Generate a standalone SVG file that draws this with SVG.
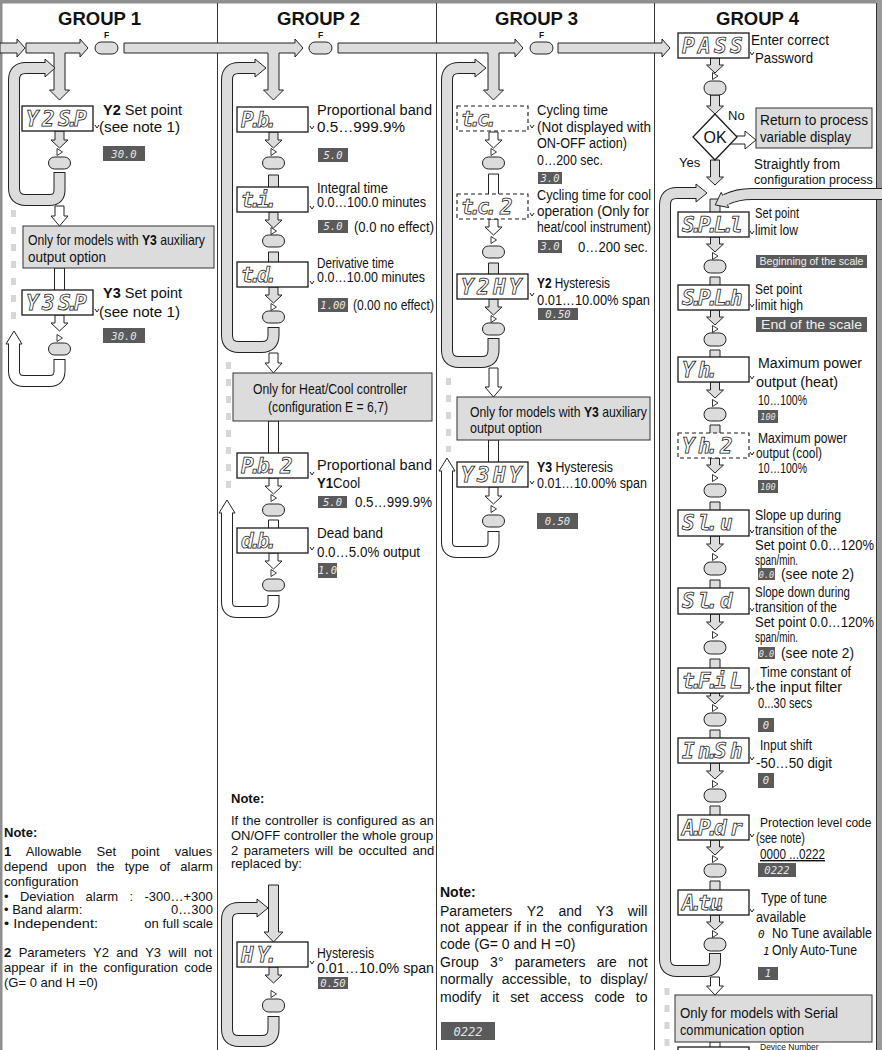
<svg xmlns="http://www.w3.org/2000/svg" width="882" height="1050" viewBox="0 0 882 1050">
<defs>
<style>
.div{stroke:#333;stroke-width:1}
.g{fill:#dcdcdc;stroke:#222;stroke-width:1}
.w{fill:#fff;stroke:#222;stroke-width:1}
.to{fill:none;stroke:#222;stroke-width:12}
.tig{fill:none;stroke:#dcdcdc;stroke-width:10}
.tiw{fill:none;stroke:#fff;stroke-width:10}
.d{fill:#fff;stroke:#1a1a1a;stroke-width:1.3}
.dd{fill:#fff;stroke:#1a1a1a;stroke-width:1.1;stroke-dasharray:4 3}
.btn{fill:#dcdcdc;stroke:#222;stroke-width:1}
.tri{fill:#fff;stroke:#222;stroke-width:0.9}
.box{fill:#dcdcdc;stroke:#333;stroke-width:1}
.val{fill:#5a5a5a}
.dash{stroke:#d6d6d6;stroke-width:5;stroke-dasharray:7 10}
.tick{fill:none;stroke:#222;stroke-width:1}
text{font-family:"Liberation Sans",Arial,Helvetica,sans-serif;fill:#111}
.t{font-size:14px}
.s{font-size:13px}
.h{font-size:18.5px;font-weight:bold}
.b{font-weight:bold}
.seg{font-family:"DejaVu Sans Mono",monospace;font-size:21px;font-style:italic;font-weight:bold;fill:#fff;stroke:#111;stroke-width:0.75}
.segs{font-family:"DejaVu Sans Mono",monospace;font-size:11px;font-style:italic}
.vt{font-family:"DejaVu Sans Mono",monospace;font-size:10.5px;font-style:italic;fill:#e6e6e6}
.vs{fill:#eeeeee}
.f{font-size:8.5px;font-weight:bold}
</style>
</defs>
<rect width="882" height="1050" fill="#fff"/>
<g id="frame">
<rect x="0" y="0" width="882" height="3.5" fill="#8f8f8f"/>
<rect x="0" y="0" width="2.5" height="1050" fill="#8f8f8f"/>
<rect x="876" y="0" width="6" height="1050" fill="#9a9a9a"/>
<line x1="876.5" y1="3" x2="876.5" y2="1050" stroke="#333"/>
<line class="div" x1="217.5" y1="3" x2="217.5" y2="1050"/>
<line class="div" x1="436.5" y1="3" x2="436.5" y2="1050"/>
<line class="div" x1="654.5" y1="3" x2="654.5" y2="1050"/>
</g>
<g id="headers">
<text class="h" x="99.5" y="25" text-anchor="middle">GROUP 1</text>
<text class="h" x="318.5" y="25" text-anchor="middle">GROUP 2</text>
<text class="h" x="536.5" y="25" text-anchor="middle">GROUP 3</text>
<text class="h" x="757.5" y="25" text-anchor="middle">GROUP 4</text>
</g>
<g id="optional-markers">
<line class="dash" x1="13.5" y1="210" x2="13.5" y2="325"/>
<line class="dash" x1="228.5" y1="362" x2="228.5" y2="495"/>
<line class="dash" x1="448.5" y1="378" x2="448.5" y2="452"/>
<line class="dash" x1="667" y1="988" x2="667" y2="1050"/>
</g>
<g id="connectors">
<path class="g" d="M0,43 H17 V39 L25,48 L17,57 V53 H0 Z"/>
<path class="g" d="M26,43 H80 V39 L88,48 L80,57 V53 H65 V90 H69.5 L59.5,100 L49.5,90 H54 V53 H26 Z"/>
<path class="g" d="M124,43 H295 V39 L303,48 L295,57 V53 H279 V90 H283.5 L273.5,100 L263.5,90 H268 V53 H124 Z"/>
<path class="g" d="M338,43 H515 V39 L523,48 L515,57 V53 H499 V90 H503.5 L493.5,100 L483.5,90 H488 V53 H338 Z"/>
<path class="g" d="M558,43 H662 V39 L670,48 L662,57 V53 H558 Z"/>
<path class="g" d="M55,131 V140 H51 L59.5,148 L68,140 H64 V131 Z"/>
<path class="to" d="M59.5,172 V190 Q59.5,200 49.5,200 H26 Q14,200 14,188 V80 Q14,68 26,68 H46"/>
<path class="g" d="M45,59 L55,68 L45,77 Z"/>
<path class="tig" d="M59.5,173 V190 Q59.5,200 49.5,200 H26 Q14,200 14,188 V80 Q14,68 26,68 H47"/>
<path class="w" d="M55,206 V216 H51 L59.5,226 L68,216 H64 V206 Z"/>
<path class="w" d="M54.5,290 V268 H64.5 V290"/>
<path class="w" d="M55,315 V323 H51 L59.5,331 L68,323 H64 V315 Z"/>
<path class="to" d="M59.5,359 V371 Q59.5,381 49.5,381 H24 Q14,381 14,371 V344"/>
<path class="w" d="M6,344 L14,331 L22,344 Z"/>
<path class="tiw" d="M59.5,360 V371 Q59.5,381 49.5,381 H24 Q14,381 14,371 V343"/>
<path class="g" d="M269,132 V140 H265 L273.5,148 L282,140 H278 V132 Z"/>
<path class="g" d="M268.5,187 V175 H278.5 V187"/>
<path class="g" d="M269,212 V220 H265 L273.5,228 L282,220 H278 V212 Z"/>
<path class="g" d="M268.5,262 V252 H278.5 V262"/>
<path class="g" d="M269,287 V295 H265 L273.5,303 L282,295 H278 V287 Z"/>
<path class="to" d="M273.5,327 V335 Q273.5,347 261.5,347 H239 Q227,347 227,335 V80 Q227,68 239,68 H256"/>
<path class="g" d="M255,59 L266,68 L255,77 Z"/>
<path class="tig" d="M273.5,328 V335 Q273.5,347 261.5,347 H239 Q227,347 227,335 V80 Q227,68 239,68 H257"/>
<path class="w" d="M269,353 V363 H265 L273.5,373 L282,363 H278 V353 Z"/>
<path class="w" d="M268.5,453 V421 H278.5 V453"/>
<path class="w" d="M269,478 V486 H265 L273.5,494 L282,486 H278 V478 Z"/>
<path class="w" d="M268.5,528 V520 H278.5 V528"/>
<path class="w" d="M269,553 V561 H265 L273.5,569 L282,561 H278 V553 Z"/>
<path class="to" d="M273.5,595 V602 Q273.5,612 263.5,612 H237 Q227,612 227,602 V513"/>
<path class="w" d="M219,513 L227,500 L235,513 Z"/>
<path class="tiw" d="M273.5,596 V602 Q273.5,612 263.5,612 H237 Q227,612 227,602 V512"/>
<path class="g" d="M268.5,885 V932 H264 L273.5,942 L283,932 H278.5 V885 Z"/>
<path class="g" d="M269,967 V975 H265 L273.5,983 L282,975 H278 V967 Z"/>
<path class="to" d="M273.5,1016 V1029 Q273.5,1041 261.5,1041 H239 Q227,1041 227,1029 V920 Q227,908 239,908 H258"/>
<path class="g" d="M257,899 L268,908 L257,917 Z"/>
<path class="tig" d="M273.5,1017 V1029 Q273.5,1041 261.5,1041 H239 Q227,1041 227,1029 V920 Q227,908 239,908 H259"/>
<path class="w" d="M489,132 V140 H485 L493.5,148 L502,140 H498 V132 Z"/>
<path class="w" d="M488.5,194 V174 H498.5 V194"/>
<path class="w" d="M489,219 V227 H485 L493.5,235 L502,227 H498 V219 Z"/>
<path class="g" d="M488.5,274 V263 H498.5 V274"/>
<path class="g" d="M489,299 V307 H485 L493.5,315 L502,307 H498 V299 Z"/>
<path class="to" d="M493.5,338 V350 Q493.5,362 481.5,362 H459 Q447,362 447,350 V80 Q447,68 459,68 H476"/>
<path class="g" d="M475,59 L486,68 L475,77 Z"/>
<path class="tig" d="M493.5,339 V350 Q493.5,362 481.5,362 H459 Q447,362 447,350 V80 Q447,68 459,68 H477"/>
<path class="w" d="M489,368 V387 H485 L493.5,397 L502,387 H498 V368 Z"/>
<path class="w" d="M488.5,462 V440 H498.5 V462"/>
<path class="w" d="M489,487 V496 H485 L493.5,504 L502,496 H498 V487 Z"/>
<path class="to" d="M493.5,531 V542 Q493.5,552 483.5,552 H457 Q447,552 447,542 V471"/>
<path class="w" d="M439,471 L447,458 L455,471 Z"/>
<path class="tiw" d="M493.5,532 V542 Q493.5,552 483.5,552 H457 Q447,552 447,542 V470"/>
<path class="g" d="M710.5,58 V65 H706.5 L715,73 L723.5,65 H719.5 V58 Z"/>
<path class="g" d="M710.5,95 V106 H706.5 L715,114 L723.5,106 H719.5 V95 Z"/>
<path class="w" d="M725,136 H745 V131 L756,140 L745,149 V144 H725 Z"/>
<path class="g" d="M710.5,160 V177 H706.5 L715,185 L723.5,177 H719.5 V160 Z"/>
<path class="g" d="M710,212 V199 H720 V212"/>
<path class="to" d="M715,953 V961 Q715,971 705,971 H677 Q665,971 665,959 V205 Q665,193 677,193 H697"/>
<path class="g" d="M696,184 L707,193 L696,202 Z"/>
<path class="tig" d="M715,954 V961 Q715,971 705,971 H677 Q665,971 665,959 V205 Q665,193 677,193 H698"/>
<path class="to" d="M882,194 H752 Q737,194 726,199.5"/>
<path class="g" d="M721.2,192.4 L715.2,204.9 L728.8,207.6 Z"/>
<path class="tig" d="M882,194 H752 Q737,194 724,200.5"/>
<path class="g" d="M710.5,237 V244 H706.5 L715,252 L723.5,244 H719.5 V237 Z"/>
<path class="g" d="M710,285 V277 H720 V285"/>
<path class="g" d="M710.5,310 V317 H706.5 L715,325 L723.5,317 H719.5 V310 Z"/>
<path class="g" d="M710,357 V350 H720 V357"/>
<path class="g" d="M710.5,382 V390 H706.5 L715,398 L723.5,390 H719.5 V382 Z"/>
<path class="g" d="M710,433 V425 H720 V433"/>
<path class="g" d="M710.5,458 V465 H706.5 L715,473 L723.5,465 H719.5 V458 Z"/>
<path class="g" d="M710,510 V502 H720 V510"/>
<path class="g" d="M710.5,536 V544 H706.5 L715,552 L723.5,544 H719.5 V536 Z"/>
<path class="g" d="M710,588 V580 H720 V588"/>
<path class="g" d="M710.5,614 V622 H706.5 L715,630 L723.5,622 H719.5 V614 Z"/>
<path class="g" d="M710,668 V659 H720 V668"/>
<path class="g" d="M710.5,693 V696 H706.5 L715,704 L723.5,696 H719.5 V693 Z"/>
<path class="g" d="M710,738 V730 H720 V738"/>
<path class="g" d="M710.5,763 V771 H706.5 L715,779 L723.5,771 H719.5 V763 Z"/>
<path class="g" d="M710,815 V806 H720 V815"/>
<path class="g" d="M710.5,840 V847 H706.5 L715,855 L723.5,847 H719.5 V840 Z"/>
<path class="g" d="M710,890 V881 H720 V890"/>
<path class="g" d="M710.5,915 V922 H706.5 L715,930 L723.5,922 H719.5 V915 Z"/>
<path class="w" d="M710.5,977 V986 H706.5 L715,995 L723.5,986 H719.5 V977 Z"/>
<path class="w" d="M710,1050 V1042 H720 V1050"/>
</g>
<g id="key-f1"><rect class="btn" x="95" y="42" width="23" height="12" rx="6"/><text class="f" x="106.5" y="38" text-anchor="middle">F</text></g>
<g id="key-f2"><rect class="btn" x="309" y="42" width="23" height="12" rx="6"/><text class="f" x="320.5" y="38" text-anchor="middle">F</text></g>
<g id="key-f3"><rect class="btn" x="530" y="42" width="23" height="12" rx="6"/><text class="f" x="541.5" y="38" text-anchor="middle">F</text></g>

<g id="node-y2sp">
<rect class="d" x="22" y="106" width="71" height="25"/>
<text class="seg" x="26 42 58 66 74" y="126">Y2S.P</text>
<path class="tick" d="M95,125 l2,3 l2,-3"/>
<text x="103" y="115" style="font-size:14.5px"><tspan class="b">Y2</tspan> Set point</text>
<text class="t" x="99" y="132" textLength="81" lengthAdjust="spacingAndGlyphs">(see note 1)</text>
<rect class="val" x="103" y="146" width="42" height="15"/><text class="vt" x="124" y="157.5" text-anchor="middle">30.0</text>
<path class="tri" d="M57,148.5 L62.5,152 L57,155.5 Z"/>
<rect class="btn" x="48.5" y="157" width="22" height="12" rx="6"/>
</g>
<g id="box-y3-g1">
<rect class="box" x="23" y="226" width="191" height="42"/>
<text class="t" transform="translate(28,245) scale(0.872,1)">Only for models with <tspan class="b">Y3</tspan> auxiliary</text>
<text class="t" x="28" y="262" textLength="78" lengthAdjust="spacingAndGlyphs">output option</text>
</g>
<g id="node-y3sp">
<rect class="d" x="22" y="290" width="71" height="25"/>
<text class="seg" x="26 42 58 66 74" y="310">Y3S.P</text>
<path class="tick" d="M95,309 l2,3 l2,-3"/>
<text x="103" y="298" style="font-size:14.5px"><tspan class="b">Y3</tspan> Set point</text>
<text class="t" x="99" y="317" textLength="81" lengthAdjust="spacingAndGlyphs">(see note 1)</text>
<rect class="val" x="103" y="328" width="42" height="15"/><text class="vt" x="124" y="339.5" text-anchor="middle">30.0</text>
<path class="tri" d="M57,334.5 L62.5,338 L57,341.5 Z"/>
<rect class="btn" x="48.5" y="343" width="22" height="12" rx="6"/>
</g>
<g id="note-g1">
<text class="s b" x="4" y="837">Note:</text>
<text class="s" x="4" y="856" style="word-spacing:11.6px"><tspan class="b">1</tspan> Allowable Set point values</text>
<text class="s" x="4" y="871" style="word-spacing:6.5px">depend upon the type of alarm</text>
<text class="s" x="4" y="886">configuration</text>
<text class="s" x="4" y="901" style="word-spacing:7.8px">• Deviation alarm : -300…+300</text>
<text class="s" x="4" y="914">• Band alarm:</text><text class="s" x="213" y="914" text-anchor="end">0…300</text>
<text class="s" x="4" y="928" textLength="94" lengthAdjust="spacingAndGlyphs">• Independent:</text><text class="s" x="213" y="928" text-anchor="end">on full scale</text>
<text class="s" x="4" y="957" style="word-spacing:3.8px"><tspan class="b">2</tspan> Parameters Y2 and Y3 will not</text>
<text class="s" x="4" y="972" style="word-spacing:2.5px">appear if in the configuration code</text>
<text class="s" x="4" y="987">(G= 0 and H =0)</text>
</g>

<g id="node-pb">
<rect class="d" x="237" y="107" width="71" height="25"/>
<text class="seg" x="241 249 257 265" y="127">P.b.</text>
<path class="tick" d="M310,126 l2,3 l2,-3"/>
<text class="t" x="317" y="115" textLength="115" lengthAdjust="spacingAndGlyphs">Proportional band</text>
<text class="t" x="317" y="132" textLength="88" lengthAdjust="spacingAndGlyphs">0.5…999.9%</text>
<rect class="val" x="318" y="148" width="30" height="14"/><text class="vt" x="333" y="158.5" text-anchor="middle">5.0</text>
<path class="tri" d="M271,148.5 L276.5,152 L271,155.5 Z"/>
<rect class="btn" x="262.5" y="157" width="22" height="12" rx="6"/>
</g>
<g id="node-ti">
<rect class="d" x="237" y="187" width="71" height="25"/>
<text class="seg" x="241 249 253 257 265" y="207">t. i.</text>
<path class="tick" d="M310,206 l2,3 l2,-3"/>
<text class="t" x="317" y="193" textLength="71" lengthAdjust="spacingAndGlyphs">Integral time</text>
<text class="t" x="317" y="207" textLength="109" lengthAdjust="spacingAndGlyphs">0.0…100.0 minutes</text>
<rect class="val" x="318" y="220" width="30" height="13"/><text class="vt" x="333" y="230" text-anchor="middle">5.0</text>
<text class="t" x="354" y="232" textLength="80" lengthAdjust="spacingAndGlyphs">(0.0 no effect)</text>
<path class="tri" d="M271,227.5 L276.5,231 L271,234.5 Z"/>
<rect class="btn" x="262.5" y="235" width="22" height="12" rx="6"/>
</g>
<g id="node-td">
<rect class="d" x="237" y="262" width="71" height="25"/>
<text class="seg" x="241 249 257 265" y="282">t.d.</text>
<path class="tick" d="M310,281 l2,3 l2,-3"/>
<text class="t" x="317" y="268" textLength="77" lengthAdjust="spacingAndGlyphs">Derivative time</text>
<text class="t" x="317" y="282" textLength="108" lengthAdjust="spacingAndGlyphs">0.0…10.00 minutes</text>
<rect class="val" x="318" y="298" width="30" height="14"/><text class="vt" x="333" y="308.5" text-anchor="middle">1.00</text>
<text class="t" x="353" y="310" textLength="81" lengthAdjust="spacingAndGlyphs">(0.00 no effect)</text>
<path class="tri" d="M271,303.5 L276.5,307 L271,310.5 Z"/>
<rect class="btn" x="262.5" y="311" width="22" height="12" rx="6"/>
</g>
<g id="box-heatcool">
<rect class="box" x="233" y="373" width="199" height="48"/>
<text class="t" x="330" y="394" text-anchor="middle" textLength="154" lengthAdjust="spacingAndGlyphs">Only for Heat/Cool controller</text>
<text class="t" x="328" y="412" text-anchor="middle" textLength="120" lengthAdjust="spacingAndGlyphs">(configuration E = 6,7)</text>
</g>
<g id="node-pb2">
<rect class="d" x="237" y="453" width="71" height="25"/>
<text class="seg" x="241 249 257 265 270 280 289" y="473">P.b.  2</text>
<path class="tick" d="M310,472 l2,3 l2,-3"/>
<text class="t" x="317" y="470" textLength="115" lengthAdjust="spacingAndGlyphs">Proportional band</text>
<text class="t" transform="translate(317,488) scale(0.94,1)"><tspan class="b">Y1</tspan>Cool</text>
<rect class="val" x="318" y="496" width="29" height="12"/><text class="vt" x="332.5" y="505.5" text-anchor="middle">5.0</text>
<text class="t" x="355" y="507" textLength="77" lengthAdjust="spacingAndGlyphs">0.5…999.9%</text>
<path class="tri" d="M271,494.5 L276.5,498 L271,501.5 Z"/>
<rect class="btn" x="262.5" y="504" width="22" height="12" rx="6"/>
</g>
<g id="node-db">
<rect class="d" x="237" y="528" width="71" height="25"/>
<text class="seg" x="241 249 257 265" y="548">d.b.</text>
<path class="tick" d="M310,547 l2,3 l2,-3"/>
<text class="t" x="317" y="538" textLength="66" lengthAdjust="spacingAndGlyphs">Dead band</text>
<text class="t" x="317" y="557" textLength="103" lengthAdjust="spacingAndGlyphs">0.0…5.0% output</text>
<rect class="val" x="318" y="563" width="19" height="15"/><text class="vt" x="327.5" y="574" text-anchor="middle">1.0</text>
<path class="tri" d="M271,569.5 L276.5,573 L271,576.5 Z"/>
<rect class="btn" x="262.5" y="579" width="22" height="12" rx="6"/>
</g>
<g id="note-g2">
<text class="s b" x="231" y="803">Note:</text>
<text class="s" x="231" y="825" style="word-spacing:0.7px">If the controller is configured as an</text>
<text class="s" x="231" y="840">ON/OFF controller the whole group</text>
<text class="s" x="231" y="855" style="word-spacing:1.9px">2 parameters will be occulted and</text>
<text class="s" x="231" y="868">replaced by:</text>
</g>
<g id="node-hy">
<rect class="d" x="237" y="942" width="71" height="25"/>
<text class="seg" x="241 257 265" y="962">HY.</text>
<path class="tick" d="M310,961 l2,3 l2,-3"/>
<text class="t" x="317" y="958" textLength="57" lengthAdjust="spacingAndGlyphs">Hysteresis</text>
<text class="t" x="317" y="973" textLength="117" lengthAdjust="spacingAndGlyphs">0.01…10.0% span</text>
<rect class="val" x="318" y="977" width="30" height="12"/><text class="vt" x="333" y="986.5" text-anchor="middle">0.50</text>
<path class="tri" d="M271,990.5 L276.5,994 L271,997.5 Z"/>
<rect class="btn" x="262.5" y="999" width="22" height="13" rx="6"/>
</g>

<g id="node-tc">
<rect class="dd" x="457" y="106" width="71" height="25"/>
<text class="seg" x="461 469 477 485" y="126">t.c.</text>
<path class="tick" d="M530,125 l2,3 l2,-3"/>
<text class="t" x="537" y="115" textLength="71" lengthAdjust="spacingAndGlyphs">Cycling time</text>
<text class="t" x="537" y="132" textLength="114" lengthAdjust="spacingAndGlyphs">(Not displayed with</text>
<text class="t" x="537" y="148" textLength="90" lengthAdjust="spacingAndGlyphs">ON-OFF action)</text>
<text class="t" x="537" y="165" textLength="66" lengthAdjust="spacingAndGlyphs">0…200 sec.</text>
<rect class="val" x="538" y="172" width="24" height="12"/><text class="vt" x="550" y="181.5" text-anchor="middle">3.0</text>
<path class="tri" d="M491,148.5 L496.5,152 L491,155.5 Z"/>
<rect class="btn" x="482.5" y="157" width="22" height="12" rx="6"/>
</g>
<g id="node-tc2">
<rect class="dd" x="457" y="194" width="71" height="25"/>
<text class="seg" x="461 469 477 485 490 500 509" y="214">t.c.  2</text>
<path class="tick" d="M530,213 l2,3 l2,-3"/>
<text class="t" x="537" y="200" textLength="114" lengthAdjust="spacingAndGlyphs">Cycling time for cool</text>
<text class="t" x="537" y="216" textLength="112" lengthAdjust="spacingAndGlyphs">operation (Only for</text>
<text class="t" x="537" y="232" textLength="114" lengthAdjust="spacingAndGlyphs">heat/cool instrument)</text>
<rect class="val" x="538" y="240" width="24" height="13"/><text class="vt" x="550" y="250" text-anchor="middle">3.0</text>
<text class="t" x="578" y="252" textLength="70" lengthAdjust="spacingAndGlyphs">0…200 sec.</text>
<path class="tri" d="M491,236.5 L496.5,240 L491,243.5 Z"/>
<rect class="btn" x="482.5" y="246" width="22" height="12" rx="6"/>
</g>
<g id="node-y2hy">
<rect class="d" x="457" y="274" width="71" height="25"/>
<text class="seg" x="461 477 493 509" y="294">Y2HY</text>
<path class="tick" d="M530,293 l2,3 l2,-3"/>
<text class="t" transform="translate(537,288) scale(0.845,1)"><tspan class="b">Y2</tspan> Hysteresis</text>
<text class="t" x="537" y="305" textLength="113" lengthAdjust="spacingAndGlyphs">0.01…10.00% span</text>
<rect class="val" x="538" y="308" width="40" height="12"/><text class="vt" x="558" y="317.5" text-anchor="middle">0.50</text>
<path class="tri" d="M491,315.5 L496.5,319 L491,322.5 Z"/>
<rect class="btn" x="482.5" y="323" width="22" height="12" rx="6"/>
</g>
<g id="box-y3-g3">
<rect class="box" x="457" y="397" width="193" height="43"/>
<text class="t" transform="translate(470,417) scale(0.872,1)">Only for models with <tspan class="b">Y3</tspan> auxiliary</text>
<text class="t" x="470" y="433" textLength="72" lengthAdjust="spacingAndGlyphs">output option</text>
</g>
<g id="node-y3hy">
<rect class="d" x="457" y="462" width="71" height="25"/>
<text class="seg" x="461 477 493 509" y="482">Y3HY</text>
<path class="tick" d="M530,481 l2,3 l2,-3"/>
<text class="t" transform="translate(537,472) scale(0.88,1)"><tspan class="b">Y3</tspan> Hysteresis</text>
<text class="t" x="537" y="488" textLength="110" lengthAdjust="spacingAndGlyphs">0.01…10.00% span</text>
<rect class="val" x="537" y="513" width="41" height="16"/><text class="vt" x="557.5" y="524.5" text-anchor="middle">0.50</text>
<path class="tri" d="M491,505.5 L496.5,509 L491,512.5 Z"/>
<rect class="btn" x="482.5" y="515" width="22" height="12" rx="6"/>
</g>
<g id="note-g3">
<text class="t b" x="440" y="897">Note:</text>
<text class="t" x="440" y="916" style="word-spacing:10.7px">Parameters Y2 and Y3 will</text>
<text class="t" x="440" y="932" style="word-spacing:1.5px">not appear if in the configuration</text>
<text class="t" x="440" y="949">code  (G= 0 and H =0)</text>
<text class="t" x="440" y="967" style="word-spacing:7.3px">Group 3° parameters are not</text>
<text class="t" x="440" y="984" style="word-spacing:4.9px">normally accessible, to display/</text>
<text class="t" x="440" y="1002" style="word-spacing:7.1px">modify it set access code to</text>
<rect class="val" x="441" y="1022" width="54" height="18"/><text class="vt" x="468" y="1035.5" text-anchor="middle" style="font-size:12px">0222</text>
</g>

<g id="node-pass">
<rect class="d" x="678" y="33" width="71" height="25"/>
<text class="seg" x="682 698 714 730" y="53">PASS</text>
<path class="tick" d="M750,52 l2,3 l2,-3"/>
<text class="t" x="751" y="45" textLength="78" lengthAdjust="spacingAndGlyphs">Enter correct</text>
<text class="t" x="755" y="63" textLength="58" lengthAdjust="spacingAndGlyphs">Password</text>
<path class="tri" d="M712.5,72.5 L718,76 L712.5,79.5 Z"/>
<rect class="btn" x="704" y="81" width="22" height="14" rx="7"/>
</g>
<g id="decision-ok">
<path class="d" d="M715,114 L737,137 L715,160 L693,137 Z"/>
<text x="715" y="143" text-anchor="middle" style="font-size:16px">OK</text>
<text class="s" x="728" y="120">No</text>
<text class="s" x="679" y="167">Yes</text>
</g>
<g id="box-return">
<rect class="box" x="756" y="108" width="116" height="40"/>
<text class="t" x="760" y="125" textLength="108" lengthAdjust="spacingAndGlyphs">Return to  process</text>
<text class="t" x="760" y="142" textLength="91" lengthAdjust="spacingAndGlyphs">variable display</text>
</g>
<g id="label-config">
<text class="t" x="754" y="169" textLength="86" lengthAdjust="spacingAndGlyphs">Straightly from</text>
<text x="754" y="184" style="font-size:12.5px">configuration process</text>
</g>
<g id="node-spll">
<rect class="d" x="678" y="212" width="71" height="25"/>
<text class="seg" x="682 690 698 706 714 722 730" y="232">S.P.L.l</text>
<path class="tick" d="M750,231 l2,3 l2,-3"/>
<text class="t" x="755" y="218" textLength="44" lengthAdjust="spacingAndGlyphs">Set point</text>
<text class="t" x="755" y="235" textLength="43" lengthAdjust="spacingAndGlyphs">limit low</text>
<rect class="val" x="756" y="255" width="111" height="13"/><text class="vs" x="811.5" y="265" text-anchor="middle" style="font-size:11px" textLength="104" lengthAdjust="spacingAndGlyphs">Beginning of the scale</text>
<path class="tri" d="M712.5,252.5 L718,256 L712.5,259.5 Z"/>
<rect class="btn" x="704" y="260" width="22" height="13" rx="6.5"/>
</g>
<g id="node-splh">
<rect class="d" x="678" y="285" width="71" height="25"/>
<text class="seg" x="682 690 698 706 714 722 730" y="305">S.P.L.h</text>
<path class="tick" d="M750,304 l2,3 l2,-3"/>
<text class="t" x="755" y="294" textLength="47" lengthAdjust="spacingAndGlyphs">Set point</text>
<text class="t" x="755" y="310" textLength="48" lengthAdjust="spacingAndGlyphs">limit high</text>
<rect class="val" x="756" y="317" width="111" height="15"/><text class="vs" x="811.5" y="329" text-anchor="middle" style="font-size:13px" textLength="101" lengthAdjust="spacingAndGlyphs">End of the scale</text>
<path class="tri" d="M712.5,325.5 L718,329 L712.5,332.5 Z"/>
<rect class="btn" x="704" y="333" width="22" height="13" rx="6.5"/>
</g>
<g id="node-yh">
<rect class="d" x="678" y="357" width="71" height="25"/>
<text class="seg" x="682 698 706" y="377">Yh.</text>
<path class="tick" d="M750,376 l2,3 l2,-3"/>
<text class="t" x="758" y="368" textLength="104" lengthAdjust="spacingAndGlyphs">Maximum power</text>
<text class="t" x="756" y="387" textLength="82" lengthAdjust="spacingAndGlyphs">output (heat)</text>
<text class="t" x="758" y="405" textLength="49" lengthAdjust="spacingAndGlyphs">10…100%</text>
<rect class="val" x="758" y="410" width="20" height="13"/><text class="vt" x="768" y="420" text-anchor="middle" style="font-size:8.5px">100</text>
<path class="tri" d="M712.5,399.5 L718,403 L712.5,406.5 Z"/>
<rect class="btn" x="704" y="408" width="22" height="13" rx="6.5"/>
</g>
<g id="node-yh2">
<rect class="dd" x="678" y="433" width="71" height="25"/>
<text class="seg" x="682 698 706 712 720 730" y="453">Yh.  2</text>
<path class="tick" d="M750,452 l2,3 l2,-3"/>
<text class="t" x="758" y="443" textLength="89" lengthAdjust="spacingAndGlyphs">Maximum power</text>
<text class="t" x="756" y="458" textLength="66" lengthAdjust="spacingAndGlyphs">output (cool)</text>
<text class="t" x="758" y="473" textLength="49" lengthAdjust="spacingAndGlyphs">10…100%</text>
<rect class="val" x="758" y="480" width="20" height="13"/><text class="vt" x="768" y="490" text-anchor="middle" style="font-size:8.5px">100</text>
<path class="tri" d="M712.5,474.5 L718,478 L712.5,481.5 Z"/>
<rect class="btn" x="704" y="484" width="22" height="13" rx="6.5"/>
</g>
<g id="node-slu">
<rect class="d" x="678" y="510" width="71" height="26"/>
<text class="seg" x="682 698 706 712 720 730" y="530">Sl.  u</text>
<path class="tick" d="M750,530 l2,3 l2,-3"/>
<text class="t" x="755" y="520" textLength="86" lengthAdjust="spacingAndGlyphs">Slope up during</text>
<text class="t" x="755" y="535" textLength="82" lengthAdjust="spacingAndGlyphs">transition of the</text>
<text class="t" x="755" y="550" textLength="119" lengthAdjust="spacingAndGlyphs">Set point 0.0…120%</text>
<text class="t" x="755" y="565" textLength="43" lengthAdjust="spacingAndGlyphs">span/min.</text>
<rect class="val" x="758" y="568" width="17" height="12"/><text class="vt" x="766.5" y="577.5" text-anchor="middle" style="font-size:8.5px">0.0</text>
<text class="t" x="781" y="579" textLength="73" lengthAdjust="spacingAndGlyphs">(see note 2)</text>
<path class="tri" d="M712.5,553.5 L718,557 L712.5,560.5 Z"/>
<rect class="btn" x="704" y="562" width="22" height="13" rx="6.5"/>
</g>
<g id="node-sld">
<rect class="d" x="678" y="588" width="71" height="26"/>
<text class="seg" x="682 698 706 712 720 730" y="608">Sl.  d</text>
<path class="tick" d="M750,608 l2,3 l2,-3"/>
<text class="t" x="755" y="597" textLength="95" lengthAdjust="spacingAndGlyphs">Slope down during</text>
<text class="t" x="755" y="612" textLength="82" lengthAdjust="spacingAndGlyphs">transition of the</text>
<text class="t" x="755" y="627" textLength="119" lengthAdjust="spacingAndGlyphs">Set point 0.0…120%</text>
<text class="t" x="755" y="642" textLength="43" lengthAdjust="spacingAndGlyphs">span/min.</text>
<rect class="val" x="758" y="647" width="17" height="12"/><text class="vt" x="766.5" y="656.5" text-anchor="middle" style="font-size:8.5px">0.0</text>
<text class="t" x="781" y="658" textLength="73" lengthAdjust="spacingAndGlyphs">(see note 2)</text>
<path class="tri" d="M712.5,631.5 L718,635 L712.5,638.5 Z"/>
<rect class="btn" x="704" y="641" width="22" height="13" rx="6.5"/>
</g>
<g id="node-tfil">
<rect class="d" x="678" y="668" width="71" height="25"/>
<text class="seg" x="682 690 698 706 710 714 730" y="688">t.F. iL</text>
<path class="tick" d="M750,687 l2,3 l2,-3"/>
<text class="t" x="760" y="677" textLength="91" lengthAdjust="spacingAndGlyphs">Time constant of</text>
<text class="t" x="756" y="692" textLength="86" lengthAdjust="spacingAndGlyphs">the input filter</text>
<text class="t" x="758" y="708" textLength="54" lengthAdjust="spacingAndGlyphs">0...30 secs</text>
<rect class="val" x="758" y="718" width="16" height="14"/><text class="vt" x="766" y="728.5" text-anchor="middle">0</text>
<path class="tri" d="M712.5,704.5 L718,708 L712.5,711.5 Z"/>
<rect class="btn" x="704" y="713" width="22" height="13" rx="6.5"/>
</g>
<g id="node-insh">
<rect class="d" x="678" y="738" width="71" height="25"/>
<text class="seg" x="682 698 706 714 730" y="758">In.Sh</text>
<path class="tick" d="M750,757 l2,3 l2,-3"/>
<text class="t" x="760" y="750" textLength="52" lengthAdjust="spacingAndGlyphs">Input shift</text>
<text class="t" x="756" y="768" textLength="76" lengthAdjust="spacingAndGlyphs">-50…50 digit</text>
<rect class="val" x="758" y="773" width="16" height="15"/><text class="vt" x="766" y="784" text-anchor="middle">0</text>
<path class="tri" d="M712.5,780.5 L718,784 L712.5,787.5 Z"/>
<rect class="btn" x="704" y="789" width="22" height="13" rx="6.5"/>
</g>
<g id="node-apdr">
<rect class="d" x="678" y="815" width="71" height="25"/>
<text class="seg" x="682 690 698 706 714 730" y="835">A.P.dr</text>
<path class="tick" d="M750,834 l2,3 l2,-3"/>
<text x="760" y="827" style="font-size:12px">Protection level code</text>
<text class="t" x="756" y="843" textLength="49" lengthAdjust="spacingAndGlyphs">(see note)</text>
<text class="t" x="760" y="859" textLength="65" lengthAdjust="spacingAndGlyphs" text-decoration="underline">0000 ...0222</text>
<rect class="val" x="758" y="863" width="38" height="14"/><text class="vt" x="777" y="873.5" text-anchor="middle">0222</text>
<path class="tri" d="M712.5,855.5 L718,859 L712.5,862.5 Z"/>
<rect class="btn" x="704" y="864" width="22" height="13" rx="6.5"/>
</g>
<g id="node-atu">
<rect class="d" x="678" y="890" width="71" height="25"/>
<text class="seg" x="682 690 698 706 710 714 722" y="910">A.t.u.</text>
<path class="tick" d="M750,909 l2,3 l2,-3"/>
<text class="t" x="761" y="903" textLength="66" lengthAdjust="spacingAndGlyphs">Type of tune</text>
<text class="t" x="756" y="922" textLength="50" lengthAdjust="spacingAndGlyphs">available</text>
<text class="segs" x="758" y="938">0</text>
<text class="t" x="772" y="938" textLength="100" lengthAdjust="spacingAndGlyphs">No Tune available</text>
<text class="segs" x="763" y="955">1</text>
<text class="t" x="772" y="955" textLength="85" lengthAdjust="spacingAndGlyphs">Only Auto-Tune</text>
<rect class="val" x="758" y="967" width="20" height="13"/><text class="vt" x="768" y="977" text-anchor="middle">1</text>
<path class="tri" d="M712.5,930.5 L718,934 L712.5,937.5 Z"/>
<rect class="btn" x="704" y="938" width="22" height="13" rx="6.5"/>
</g>
<g id="box-serial">
<rect class="box" x="675" y="995" width="197" height="47"/>
<text class="t" x="680" y="1018" textLength="158" lengthAdjust="spacingAndGlyphs">Only for models with Serial</text>
<text class="t" x="680" y="1035" textLength="124" lengthAdjust="spacingAndGlyphs">communication option</text>
</g>
<g id="node-devnum">
<rect class="d" x="678" y="1047" width="71" height="25"/>
<text x="760" y="1049.5" style="font-size:8.5px">Device Number</text>
</g>
</svg>
